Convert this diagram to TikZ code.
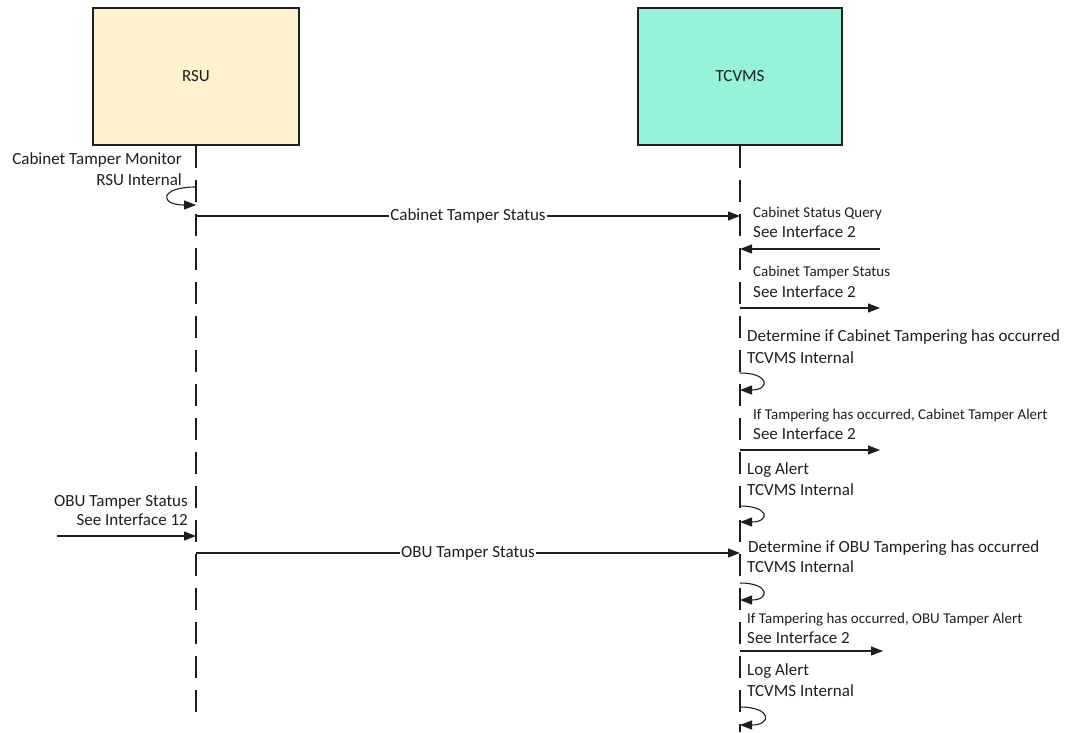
\documentclass[tikz,border=0pt]{standalone}
\usepackage{fontspec}
\setmainfont{Carlito}
\usetikzlibrary{arrows.meta}
\definecolor{rsufill}{HTML}{FFF2CC}
\definecolor{tcvmsfill}{HTML}{97F2DC}
\definecolor{edge}{HTML}{1E1E1E}
\begin{document}
\begin{tikzpicture}[x=1pt,y=-1pt,
  actor/.style={draw=edge, line width=1.2pt, minimum height=137pt,
    font=\fontsize{17}{20}\selectfont, text=edge},
  lifeline/.style={draw=edge, line width=1.1pt, dash pattern=on 22pt off 12pt},
  msg/.style={draw=edge, line width=1.1pt, -{Triangle[length=12pt,width=9pt]}},
  note/.style={font=\fontsize{17}{20}\selectfont, inner sep=0pt, text=edge},
  smallnote/.style={font=\fontsize{15}{18}\selectfont, inner sep=0pt, text=edge},
  midlabel/.style={font=\fontsize{17}{20}\selectfont, fill=white, inner sep=1.5pt, text=edge}]

\useasboundingbox (0,0) rectangle (1069,732);

% actors
\node[actor, fill=rsufill, minimum width=206pt] (rsu) at (196,76.5) {RSU};
\node[actor, fill=tcvmsfill, minimum width=204pt] (tcvms) at (740,76.5) {TCVMS};

% lifelines
\coordinate (rsuend) at (196,718);
\coordinate (tcvmsend) at (740,732);
\draw[lifeline] (rsu.south) -- (rsuend);
\draw[lifeline] (tcvms.south) -- (tcvmsend);

% RSU internal: cabinet tamper monitor
\node[note, anchor=base east] (n1a) at (182,164) {Cabinet Tamper Monitor};
\node[note, anchor=base east] (n1b) at (182,185) {RSU Internal};
\coordinate (l1s) at (196,187);
\coordinate (l1e) at (196,205);
\draw[msg] (l1s) .. controls +(-37,0) and +(-37,0) .. (l1e);

% RSU -> TCVMS: cabinet tamper status
\coordinate (r2) at (196,216);
\coordinate (t2) at (740,216);
\draw[msg] (r2) -- node[midlabel] (m2) {Cabinet Tamper Status} (t2);

% cabinet status query (interface 2)
\node[smallnote, anchor=base west] (n3a) at (753,217) {Cabinet Status Query};
\node[note, anchor=base west] (n3b) at (753,237) {See Interface 2};
\coordinate (x3) at (880,249);
\coordinate (t3) at (740,249);
\draw[msg] (x3) -- (t3);

% cabinet tamper status (interface 2)
\node[smallnote, anchor=base west] (n4a) at (753,276) {Cabinet Tamper Status};
\node[note, anchor=base west] (n4b) at (753,297) {See Interface 2};
\coordinate (t4) at (740,308);
\coordinate (x4) at (880,308);
\draw[msg] (t4) -- (x4);

% TCVMS internal: cabinet tampering check
\node[note, anchor=base west] (n5a) at (747,341) {Determine if Cabinet Tampering has occurred};
\node[note, anchor=base west] (n5b) at (747,363) {TCVMS Internal};
\coordinate (l5s) at (740,373);
\coordinate (l5e) at (740,390);
\draw[msg] (l5s) .. controls +(30,0) and +(30,0) .. (l5e);

% cabinet tamper alert (interface 2)
\node[smallnote, anchor=base west] (n6a) at (753,419) {If Tampering has occurred, Cabinet Tamper Alert};
\node[note, anchor=base west] (n6b) at (753,439) {See Interface 2};
\coordinate (t6) at (740,450);
\coordinate (x6) at (880,450);
\draw[msg] (t6) -- (x6);

% TCVMS internal: log alert
\node[note, anchor=base west] (n7a) at (747,474) {Log Alert};
\node[note, anchor=base west] (n7b) at (747,495) {TCVMS Internal};
\coordinate (l7s) at (740,506);
\coordinate (l7e) at (740,522);
\draw[msg] (l7s) .. controls +(30,0) and +(30,0) .. (l7e);

% OBU tamper status (interface 12)
\node[note, anchor=base east] (n8a) at (188,506) {OBU Tamper Status};
\node[note, anchor=base east] (n8b) at (188,525) {See Interface 12};
\coordinate (x8) at (57,536);
\coordinate (r8) at (196,536);
\draw[msg] (x8) -- (r8);

% RSU -> TCVMS: OBU tamper status
\coordinate (r9) at (196,553);
\coordinate (t9) at (740,553);
\draw[msg] (r9) -- node[midlabel] (m9) {OBU Tamper Status} (t9);

% TCVMS internal: OBU tampering check
\node[note, anchor=base west] (n10a) at (748,552) {Determine if OBU Tampering has occurred};
\node[note, anchor=base west] (n10b) at (747,572) {TCVMS Internal};
\coordinate (l10s) at (740,583);
\coordinate (l10e) at (740,600);
\draw[msg] (l10s) .. controls +(30,0) and +(30,0) .. (l10e);

% OBU tamper alert (interface 2)
\node[smallnote, anchor=base west] (n11a) at (747,623) {If Tampering has occurred, OBU Tamper Alert};
\node[note, anchor=base west] (n11b) at (747,643) {See Interface 2};
\coordinate (t11) at (740,651);
\coordinate (x11) at (883,651);
\draw[msg] (t11) -- (x11);

% TCVMS internal: log alert
\node[note, anchor=base west] (n12a) at (747,675) {Log Alert};
\node[note, anchor=base west] (n12b) at (747,696) {TCVMS Internal};
\coordinate (l12s) at (740,707);
\coordinate (l12e) at (740,725);
\draw[msg] (l12s) .. controls +(32,0) and +(32,0) .. (l12e);

\end{tikzpicture}
\end{document}
